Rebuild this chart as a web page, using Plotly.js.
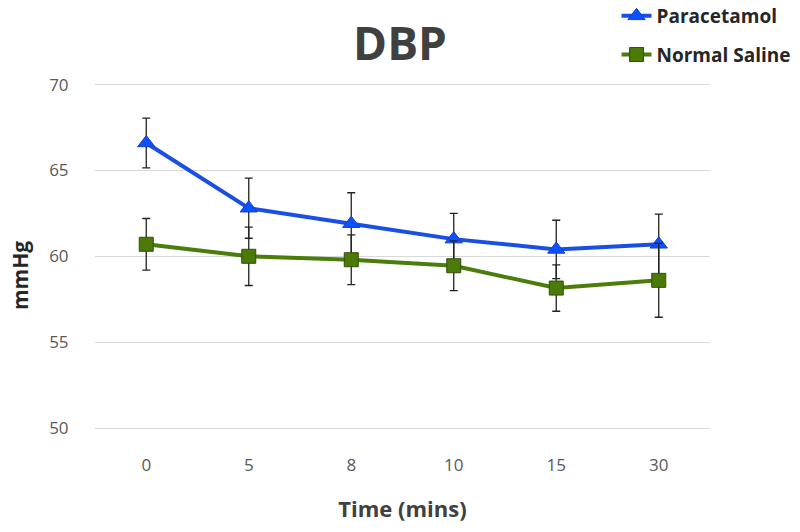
<!DOCTYPE html>
<html>
<head>
<meta charset="utf-8">
<script src="https://cdn.plot.ly/plotly-3.0.1.min.js"></script>
<style>html,body{margin:0;padding:0;background:#fff;}#chart{width:800px;height:532px;}</style>
</head>
<body>
<div id="chart"></div>
<script>
const times = ['0', '5', '8', '10', '15', '30'];
const paracetamol = [66.6, 62.8, 61.9, 61.0, 60.4, 60.7];
const paracetamolErr = [1.45, 1.75, 1.8, 1.5, 1.7, 1.75];
const saline = [60.7, 60.0, 59.8, 59.45, 58.15, 58.6];
const salineErr = [1.5, 1.7, 1.45, 1.45, 1.35, 2.15];
const yTicks = [50, 55, 60, 65, 70];

const fontFam = 'Open Sans, Lato, sans-serif';

const traces = [
  {
    x: times, y: paracetamol, name: 'Paracetamol', type: 'scatter', mode: 'lines+markers',
    legendgroup: 'a',
    line: {color: '#1a4fe6', width: 4},
    marker: {symbol: 'triangle-up', size: 15, color: '#0a52ff', line: {color: '#1a3fc0', width: 1}},
    error_y: {type: 'data', array: paracetamolErr, visible: true, color: '#222', thickness: 1.3, width: 4}
  },
  {
    x: times, y: saline, name: 'Normal Saline', type: 'scatter', mode: 'lines+markers',
    legendgroup: 'b',
    line: {color: '#4b7d0c', width: 4},
    marker: {symbol: 'square', size: 14, color: '#4b7a09', line: {color: '#2f5004', width: 1}},
    error_y: {type: 'data', array: salineErr, visible: true, color: '#222', thickness: 1.3, width: 4}
  }
];

const plotTop = 76, plotBottom = 428, plotH = plotBottom - plotTop;

const layout = {
  width: 800, height: 532,
  margin: {l: 95, r: 90, t: plotTop, b: 532 - plotBottom, autoexpand: false},
  paper_bgcolor: '#fff', plot_bgcolor: '#fff',
  font: {family: fontFam, color: '#595959'},
  title: {text: '<b>DBP</b>', font: {size: 46, color: '#404040', family: fontFam}, x: 0.5, xanchor: 'center', y: 0.917, yanchor: 'middle'},
  showlegend: true,
  legend: {
    x: 0.848, xanchor: 'left', y: (plotBottom + 3) / plotH, yanchor: 'top',
    font: {size: 19, color: '#262626', family: fontFam, weight: 'bold'},
    traceorder: 'grouped', tracegroupgap: 11, itemwidth: 30,
    bgcolor: 'rgba(0,0,0,0)'
  },
  xaxis: {
    type: 'category', range: [-0.5, 5.5],
    showgrid: false, zeroline: false,
    showline: true, linecolor: '#d9d9d9', linewidth: 1,
    ticks: 'outside', ticklen: 22, tickcolor: 'rgba(0,0,0,0)',
    tickfont: {size: 17, color: '#595959'},
    title: {text: '<b>Time (mins)</b>', font: {size: 22, color: '#404040'}, standoff: 26}
  },
  yaxis: {
    range: [50, 70.5], tickvals: yTicks,
    showgrid: true, gridcolor: '#d9d9d9', gridwidth: 1, zeroline: false,
    showline: false,
    ticks: 'outside', ticklen: 22, tickcolor: 'rgba(0,0,0,0)',
    tickfont: {size: 17, color: '#595959'}
  },
  annotations: [{
    text: '<b>mmHg</b>', textangle: -90, showarrow: false,
    xref: 'paper', yref: 'paper', x: (20 - 95) / 615, y: (plotBottom - 276) / plotH,
    xanchor: 'center', yanchor: 'middle',
    font: {size: 21, color: '#262626', family: fontFam}
  }]
};

Plotly.newPlot('chart', traces, layout, {displayModeBar: false, staticPlot: true});
</script>
</body>
</html>
